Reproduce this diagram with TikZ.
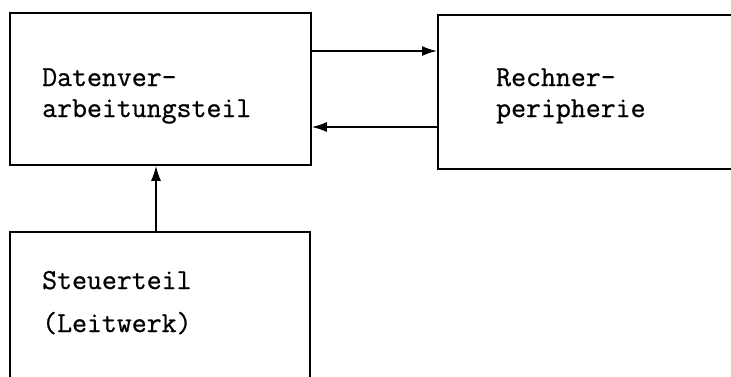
\documentclass[tikz,border=0pt]{standalone}
\usepackage{fontspec}
\setmonofont{Latin Modern Mono}[FakeBold=0.8]
\usetikzlibrary{arrows.meta}
\begin{document}
\begin{tikzpicture}[x=1pt,y=-1pt,
  box/.style={draw, line width=1.8pt, rectangle, anchor=north west, inner sep=0pt},
  lbl/.style={anchor=base west, font=\fontsize{29}{31}\selectfont\ttfamily, inner sep=0pt},
  conn/.style={line width=1.6pt, -{Latex[length=15pt,width=10pt]}}]
\useasboundingbox (0,0) rectangle (731,376);
\clip (0,0) rectangle (731,376);
\node[box, minimum width=301pt, minimum height=152pt] (dv) at (9,12) {};
\node[box, minimum width=310pt, minimum height=154pt] (rp) at (437,14) {};
\node[box, minimum width=300pt, minimum height=160pt] (st) at (9,231) {};
\node[lbl] (t1) at (42,86) {Datenver-};
\node[lbl] (t2) at (42,117) {arbeitungsteil};
\node[lbl] (t3) at (496,86) {Rechner-};
\node[lbl] (t4) at (496,117) {peripherie};
\node[lbl] (t5) at (42,289) {Steuerteil};
\node[lbl] (t6) at (42,332) {(Leitwerk)};
\coordinate (a1) at (310,51);
\coordinate (a2) at (437,127);
\draw[conn] (a1) -- (a1 -| rp.west);
\draw[conn] (a2) -- (a2 -| dv.east);
\draw[conn] (st.north -| 156,0) -- (dv.south -| 156,0);
\end{tikzpicture}
\end{document}
